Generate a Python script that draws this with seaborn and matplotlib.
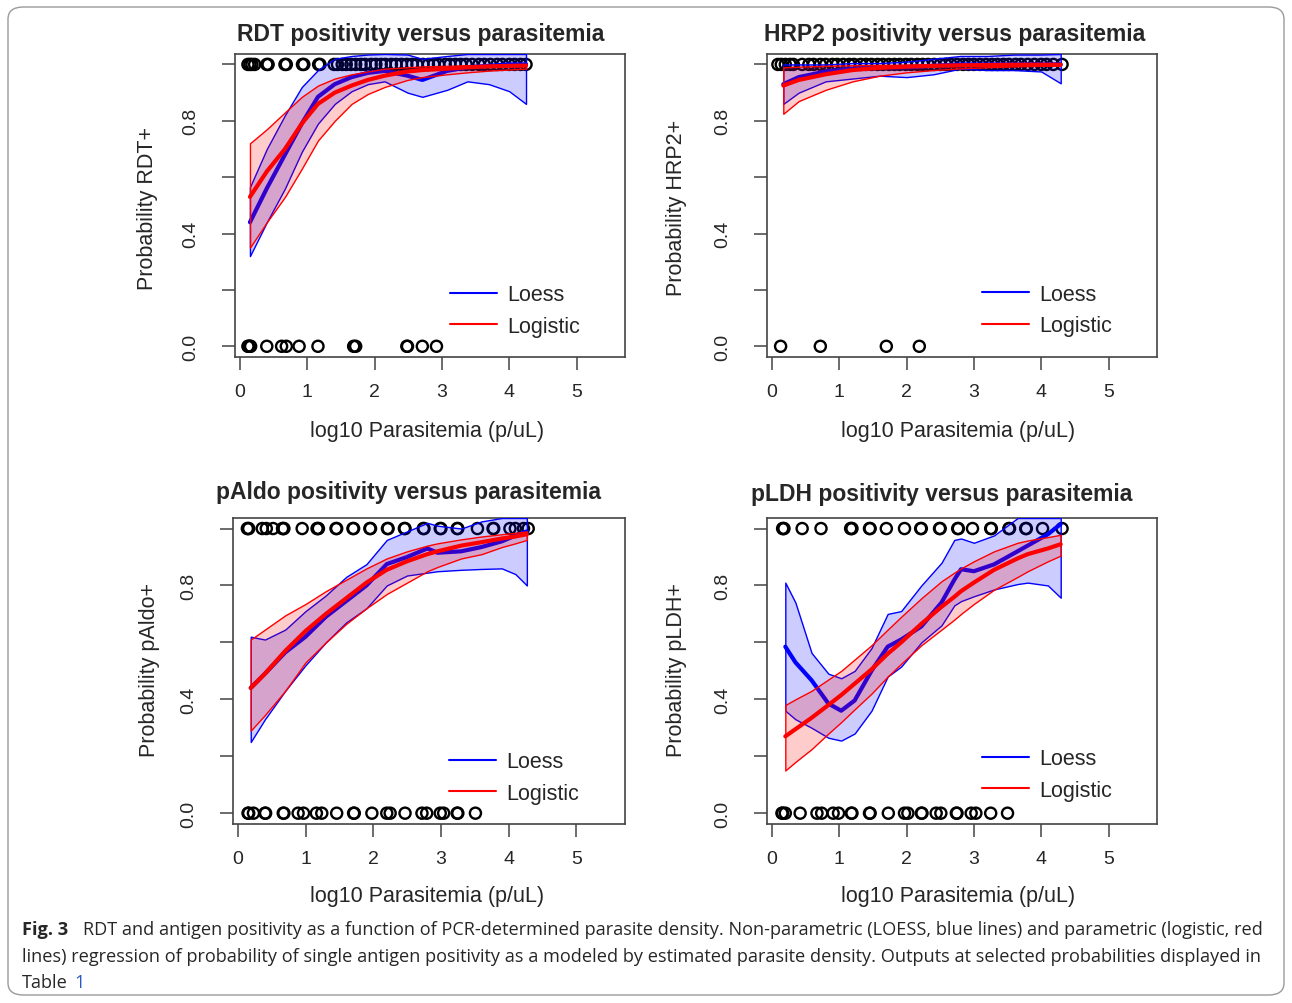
import numpy as np
import pandas as pd
import matplotlib
matplotlib.use("Agg")
import matplotlib.pyplot as plt
import seaborn as sns
from matplotlib.patches import FancyBboxPatch
from matplotlib.lines import Line2D

sns.set_style("white")
plt.rcParams['font.family'] = ['Liberation Sans', 'DejaVu Sans']

# ---------------- RDT ----------------
rdt_x = [0.15, 0.40, 0.67, 0.92, 1.16, 1.41, 1.66, 1.90, 2.15, 2.49, 2.71, 3.08, 3.38, 3.70, 4.00, 4.25]
rdt_loess = [0.44, 0.56, 0.68, 0.79, 0.885, 0.93, 0.955, 0.97, 0.977, 0.96, 0.945, 0.977, 0.99, 0.995, 1.0, 1.0]
rdt_loess_hi = [0.565, 0.70, 0.82, 0.92, 0.98, 1.02, 1.03, 1.035, 1.037, 1.035, 1.02, 1.03, 1.037, 1.037, 1.037, 1.037]
rdt_loess_lo = [0.32, 0.44, 0.56, 0.69, 0.79, 0.86, 0.905, 0.93, 0.94, 0.90, 0.885, 0.91, 0.94, 0.93, 0.905, 0.86]
rdt_logit = [0.53, 0.62, 0.70, 0.79, 0.86, 0.90, 0.925, 0.945, 0.96, 0.975, 0.98, 0.985, 0.99, 0.993, 0.995, 0.996]
rdt_logit_hi = [0.72, 0.77, 0.83, 0.885, 0.925, 0.95, 0.965, 0.975, 0.985, 0.99, 0.993, 0.995, 0.997, 0.998, 0.999, 0.999]
rdt_logit_lo = [0.35, 0.44, 0.53, 0.63, 0.73, 0.80, 0.86, 0.895, 0.92, 0.945, 0.955, 0.965, 0.972, 0.978, 0.982, 0.985]
rdt_pos = [0.12, 0.15, 0.18, 0.22, 0.40, 0.42, 0.67, 0.69, 0.93, 0.95, 1.17, 1.19, 1.40, 1.45, 1.52,
           1.58, 1.65, 1.72, 1.80, 1.86, 1.95, 2.02, 2.10, 2.16, 2.25, 2.32, 2.40, 2.48, 2.56, 2.63,
           2.72, 2.80, 2.88, 2.95, 3.05, 3.12, 3.20, 3.28, 3.36, 3.45, 3.55, 3.63, 3.72, 3.82, 3.90,
           4.00, 4.08, 4.17, 4.25]
rdt_neg = [0.12, 0.13, 0.15, 0.16, 0.40, 0.62, 0.69, 0.88, 1.16, 1.69, 1.72, 2.48, 2.49, 2.71, 2.92]

# ---------------- HRP2 ----------------
hrp_x = [0.17, 0.40, 0.80, 1.20, 1.60, 2.00, 2.40, 2.80, 3.20, 3.60, 4.00, 4.29]
hrp_loess = [0.93, 0.955, 0.975, 0.985, 0.99, 0.99, 0.995, 1.0, 1.0, 1.0, 1.0, 1.0]
hrp_loess_hi = [1.0, 1.0, 1.0, 1.005, 1.005, 1.01, 1.02, 1.03, 1.03, 1.035, 1.035, 1.037]
hrp_loess_lo = [0.86, 0.90, 0.94, 0.95, 0.96, 0.955, 0.965, 0.985, 0.98, 0.98, 0.975, 0.933]
hrp_logit = [0.925, 0.945, 0.965, 0.98, 0.988, 0.992, 0.995, 0.997, 0.998, 0.999, 0.999, 0.999]
hrp_logit_hi = [0.99, 0.992, 0.995, 0.997, 0.998, 0.999, 0.999, 1.0, 1.0, 1.0, 1.0, 1.0]
hrp_logit_lo = [0.825, 0.87, 0.91, 0.94, 0.96, 0.972, 0.98, 0.986, 0.99, 0.993, 0.995, 0.996]
hrp_pos = [0.09, 0.14, 0.20, 0.27, 0.32, 0.45, 0.55, 0.62, 0.72, 0.80, 0.90, 0.97, 1.06, 1.15, 1.22,
           1.32, 1.40, 1.48, 1.57, 1.65, 1.74, 1.82, 1.90, 1.99, 2.07, 2.16, 2.24, 2.32, 2.41, 2.50,
           2.58, 2.66, 2.75, 2.84, 2.92, 3.00, 3.09, 3.18, 3.27, 3.35, 3.44, 3.52, 3.62, 3.70, 3.80,
           3.90, 4.00, 4.08, 4.18, 4.31]
hrp_neg = [0.13, 0.72, 1.70, 2.19]

# ---------------- pAldo ----------------
ald_x = [0.19, 0.40, 0.70, 1.00, 1.30, 1.60, 1.90, 2.20, 2.50, 2.80, 2.95, 3.30, 3.60, 3.90, 4.10, 4.27]
ald_loess = [0.44, 0.49, 0.565, 0.62, 0.69, 0.745, 0.80, 0.875, 0.90, 0.93, 0.915, 0.92, 0.935, 0.955, 0.975, 0.99]
ald_loess_hi = [0.62, 0.61, 0.645, 0.71, 0.765, 0.83, 0.875, 0.96, 0.99, 1.02, 1.01, 1.0, 1.025, 1.037, 1.037, 1.037]
ald_loess_lo = [0.25, 0.33, 0.43, 0.52, 0.60, 0.67, 0.72, 0.80, 0.835, 0.845, 0.85, 0.855, 0.858, 0.86, 0.84, 0.80]
ald_logit = [0.44, 0.49, 0.57, 0.64, 0.70, 0.755, 0.81, 0.855, 0.885, 0.91, 0.92, 0.94, 0.952, 0.965, 0.972, 0.98]
ald_logit_hi = [0.61, 0.645, 0.695, 0.735, 0.78, 0.82, 0.86, 0.895, 0.92, 0.94, 0.948, 0.962, 0.972, 0.98, 0.985, 0.99]
ald_logit_lo = [0.29, 0.345, 0.43, 0.53, 0.60, 0.665, 0.72, 0.77, 0.81, 0.85, 0.865, 0.895, 0.91, 0.935, 0.948, 0.96]
ald_pos = [0.14, 0.15, 0.16, 0.36, 0.42, 0.52, 0.66, 0.67, 0.68, 0.95, 1.17, 1.18, 1.19, 1.45, 1.46,
           1.70, 1.71, 1.95, 1.96, 2.21, 2.22, 2.46, 2.47, 2.74, 2.75, 2.99, 3.00, 3.24, 3.25, 3.54,
           3.77, 3.78, 4.02, 4.10, 4.22, 4.29]
ald_neg = [0.15, 0.16, 0.23, 0.40, 0.41, 0.67, 0.68, 0.89, 0.97, 1.16, 1.24, 1.46, 1.71, 1.72, 1.98,
           2.20, 2.25, 2.47, 2.72, 2.79, 2.99, 3.04, 3.24, 3.25, 3.51]

# ---------------- pLDH ----------------
ldh_x = [0.20, 0.35, 0.59, 0.84, 1.03, 1.23, 1.48, 1.72, 1.92, 2.22, 2.52, 2.71, 2.81, 3.00, 3.30, 3.65, 3.80, 4.10, 4.29]
ldh_loess = [0.585, 0.53, 0.467, 0.385, 0.36, 0.396, 0.50, 0.585, 0.61, 0.656, 0.74, 0.82, 0.857, 0.85, 0.874, 0.92, 0.94, 0.98, 1.016]
ldh_loess_hi = [0.81, 0.74, 0.563, 0.49, 0.474, 0.50, 0.58, 0.70, 0.71, 0.80, 0.88, 0.96, 0.965, 0.95, 0.976, 1.037, 1.037, 1.037, 1.037]
ldh_loess_lo = [0.36, 0.33, 0.30, 0.265, 0.255, 0.28, 0.36, 0.48, 0.515, 0.60, 0.66, 0.73, 0.745, 0.762, 0.786, 0.805, 0.81, 0.80, 0.757]
ldh_logit = [0.27, 0.295, 0.335, 0.38, 0.415, 0.455, 0.505, 0.56, 0.60, 0.665, 0.725, 0.76, 0.78, 0.81, 0.855, 0.895, 0.91, 0.93, 0.945]
ldh_logit_hi = [0.38, 0.40, 0.43, 0.47, 0.50, 0.54, 0.59, 0.645, 0.69, 0.755, 0.815, 0.845, 0.86, 0.885, 0.92, 0.95, 0.958, 0.97, 0.978]
ldh_logit_lo = [0.15, 0.18, 0.225, 0.28, 0.32, 0.365, 0.42, 0.48, 0.525, 0.59, 0.645, 0.68, 0.70, 0.735, 0.785, 0.83, 0.85, 0.885, 0.905]
ldh_pos = [0.16, 0.17, 0.18, 0.45, 0.73, 1.17, 1.18, 1.19, 1.45, 1.46, 1.70, 1.97, 2.21, 2.22, 2.49,
           2.50, 2.76, 2.77, 2.98, 3.25, 3.26, 3.52, 3.53, 3.77, 3.78, 4.02, 4.31]
ldh_neg = [0.15, 0.16, 0.20, 0.42, 0.67, 0.74, 0.91, 0.99, 1.18, 1.19, 1.45, 1.46, 1.73, 1.97, 2.02,
           2.22, 2.23, 2.44, 2.51, 2.74, 2.75, 2.96, 3.03, 3.25, 3.50]

titles = ["RDT positivity versus parasitemia", "HRP2 positivity versus parasitemia",
          "pAldo positivity versus parasitemia", "pLDH positivity versus parasitemia"]
ylabels = ["Probability RDT+", "Probability HRP2+", "Probability pAldo+", "Probability pLDH+"]
xlabel = "log10 Parasitemia (p/uL)"

panels = [
    (rdt_x, rdt_loess, rdt_loess_lo, rdt_loess_hi, rdt_logit, rdt_logit_lo, rdt_logit_hi, rdt_pos, rdt_neg),
    (hrp_x, hrp_loess, hrp_loess_lo, hrp_loess_hi, hrp_logit, hrp_logit_lo, hrp_logit_hi, hrp_pos, hrp_neg),
    (ald_x, ald_loess, ald_loess_lo, ald_loess_hi, ald_logit, ald_logit_lo, ald_logit_hi, ald_pos, ald_neg),
    (ldh_x, ldh_loess, ldh_loess_lo, ldh_loess_hi, ldh_logit, ldh_logit_lo, ldh_logit_hi, ldh_pos, ldh_neg),
]

W, H = 1292, 1004
fig = plt.figure(figsize=(W / 100, H / 100), dpi=100)

# axes boxes in pixels: left, top, right, bottom
boxes = [(235, 55, 625, 358), (767, 55, 1157, 358), (233, 519, 625, 825), (767, 519, 1157, 825)]
title_pos = [(421, 35), (955, 35), (408, 493), (942, 495)]
xlab_pos = [(427, 432), (958, 431), (427, 897), (958, 897)]
ylab_pos = [(148, 208), (676, 208), (150, 670), (676, 670)]
legend_y = [0.153, 0.155, 0.152, 0.162]
frame_col = "#444444"

for i, (x, lo_f, lo_l, lo_h, lg_f, lg_l, lg_h, pos, neg) in enumerate(panels):
    l, t, r, b = boxes[i]
    ax = fig.add_axes([l / W, 1 - b / H, (r - l) / W, (b - t) / H])

    pts = pd.DataFrame({"x": pos + neg, "y": [1.0] * len(pos) + [0.0] * len(neg)})
    sns.scatterplot(data=pts, x="x", y="y", ax=ax, s=64, marker="o",
                    facecolors="none", edgecolor="black", linewidth=1.7, zorder=2)

    ax.fill_between(x, lo_l, lo_h, facecolor=(0, 0, 1, 0.2), edgecolor="blue", lw=1.0, zorder=3)
    sns.lineplot(x=x, y=lo_f, ax=ax, color="blue", lw=3, sort=False, estimator=None, zorder=4)
    ax.fill_between(x, lg_l, lg_h, facecolor=(1, 0, 0, 0.2), edgecolor="red", lw=1.0, zorder=5)
    sns.lineplot(x=x, y=lg_f, ax=ax, color="red", lw=3, sort=False, estimator=None, zorder=6)

    ax.set_xlim(-0.072, 5.72)
    ax.set_ylim(-0.038, 1.037)
    ax.set_xticks([0, 1, 2, 3, 4, 5])
    ax.set_xticklabels(["0", "1", "2", "3", "4", "5"], fontsize=14)
    ax.set_yticks([0.0, 0.2, 0.4, 0.6, 0.8, 1.0])
    ax.set_yticklabels(["0.0", "", "0.4", "", "0.8", ""], rotation=90, va="center", fontsize=14)
    ax.tick_params(axis="both", direction="out", length=9.5, width=1.1, color=frame_col,
                   left=True, bottom=True)
    ax.tick_params(axis="x", pad=9)
    ax.tick_params(axis="y", pad=16)
    ax.set_xlabel("")
    ax.set_ylabel("")
    for sp in ax.spines.values():
        sp.set_visible(True)
        sp.set_color(frame_col)
        sp.set_linewidth(1.2)

    handles = [Line2D([], [], color="blue", lw=1.5), Line2D([], [], color="red", lw=1.5)]
    ax.legend(handles, ["Loess", "Logistic"], loc="center left",
              bbox_to_anchor=(0.551, legend_y[i]), frameon=False, fontsize=15.5,
              handlelength=2.2, handletextpad=0.45, labelspacing=0.5,
              borderpad=0, borderaxespad=0)

    tx, ty = title_pos[i]
    fig.text(tx / W, 1 - ty / H, titles[i], ha="center", va="center",
             fontsize=16.5, fontweight="bold")
    xx, xy = xlab_pos[i]
    fig.text(xx / W, 1 - xy / H, xlabel, ha="center", va="center", fontsize=15.5)
    yx, yy = ylab_pos[i]
    fig.text(yx / W, 1 - yy / H, ylabels[i], ha="center", va="center",
             rotation=90, fontsize=15.5)

# rounded border round the figure
border = FancyBboxPatch((8 / W, 8 / H), (W - 16) / W, (H - 16) / H,
                        boxstyle="round,pad=0,rounding_size=0.012",
                        transform=fig.transFigure, facecolor="none",
                        edgecolor="#9a9a9a", lw=1.0)
fig.patches.append(border)

# caption
cap_font = ['Open Sans', 'DejaVu Sans']
cap_size = 13.1
fig.text(22 / W, 1 - 930 / H, "Fig. 3", family=cap_font, fontsize=cap_size,
         fontweight="bold", va="center", ha="left")
fig.text(83 / W, 1 - 930 / H,
         "RDT and antigen positivity as a function of PCR-determined parasite density. "
         "Non-parametric (LOESS, blue lines) and parametric (logistic, red",
         family=cap_font, fontsize=cap_size, va="center", ha="left")
fig.text(22 / W, 1 - 957 / H,
         "lines) regression of probability of single antigen positivity as a modeled by "
         "estimated parasite density. Outputs at selected probabilities displayed in",
         family=cap_font, fontsize=cap_size, va="center", ha="left")
fig.text(22 / W, 1 - 983 / H, "Table", family=cap_font, fontsize=cap_size,
         va="center", ha="left")
fig.text(74 / W, 1 - 983 / H, "1", family=cap_font, fontsize=cap_size,
         va="center", ha="left", color="#2a56c6")

fig.savefig("out.png", dpi=100)
